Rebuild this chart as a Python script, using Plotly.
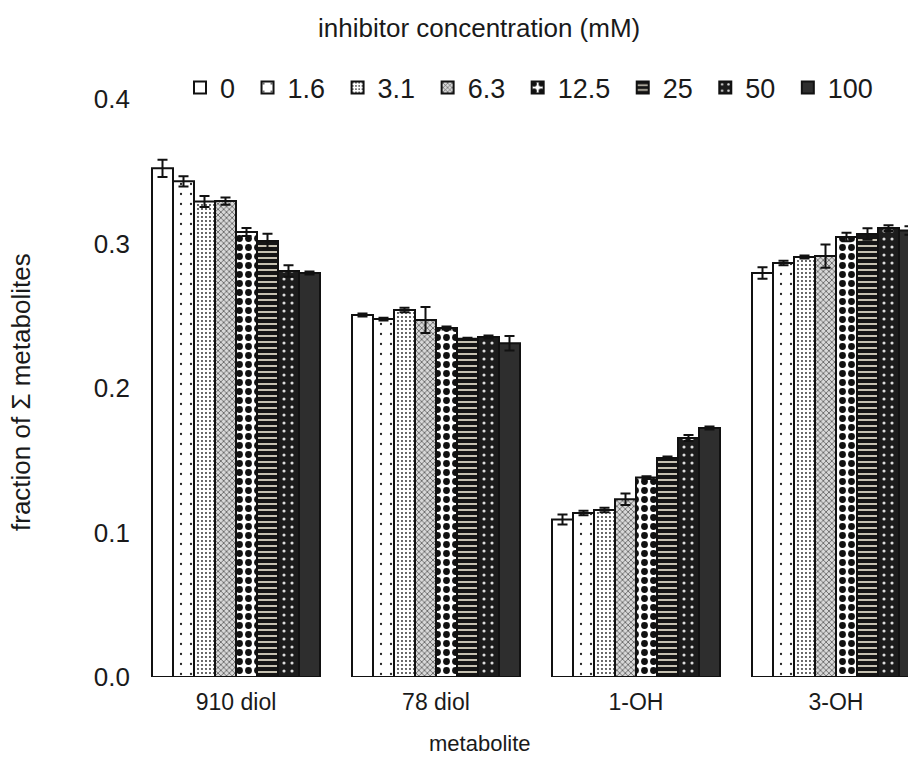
import plotly.graph_objects as go

# Metabolite categories on the x axis
metabolites = ["910 diol", "78 diol", "1-OH", "3-OH"]

# Inhibitor concentrations (one bar series each)
concentrations = ["0", "1.6", "3.1", "6.3", "12.5", "25", "50", "100"]

# Mean fraction of total metabolites, per concentration (order follows metabolites)
frac_0 = [0.352, 0.2505, 0.109, 0.2796]
frac_1_6 = [0.343, 0.2477, 0.1135, 0.2865]
frac_3_1 = [0.329, 0.254, 0.1156, 0.2907]
frac_6_3 = [0.3294, 0.247, 0.123, 0.2913]
frac_12_5 = [0.308, 0.2415, 0.138, 0.3045]
frac_25 = [0.3017, 0.234, 0.1516, 0.3066]
frac_50 = [0.281, 0.2353, 0.1654, 0.3107]
frac_100 = [0.2796, 0.231, 0.1723, 0.309]

# Error (+/-) per bar
err_0 = [0.006, 0.001, 0.0035, 0.004]
err_1_6 = [0.0035, 0.001, 0.0015, 0.0015]
err_3_1 = [0.0038, 0.0015, 0.0015, 0.001]
err_6_3 = [0.0025, 0.009, 0.004, 0.008]
err_12_5 = [0.0028, 0.001, 0.001, 0.003]
err_25 = [0.005, 0.0007, 0.001, 0.004]
err_50 = [0.004, 0.001, 0.002, 0.002]
err_100 = [0.001, 0.005, 0.001, 0.003]

values = [frac_0, frac_1_6, frac_3_1, frac_6_3, frac_12_5, frac_25, frac_50, frac_100]
errors = [err_0, err_1_6, err_3_1, err_6_3, err_12_5, err_25, err_50, err_100]

# Fill style of each series: (background, pattern shape, pattern colour, size, solidity)
styles = [
    ("white", "", "black", 8, 0.3),
    ("white", ".", "#222222", 10, 0.04),
    ("white", ".", "#222222", 4, 0.16),
    ("#d8d8d8", "x", "#555555", 4, 0.35),
    ("white", ".", "#111111", 9, 0.45),
    ("#151515", "-", "#e8e2cf", 6, 0.28),
    ("#1c1c1c", ".", "#dcdcdc", 8, 0.12),
    ("#2e2e2e", "", "#2e2e2e", 8, 0.3),
]

FONT = "Liberation Sans, Arial, sans-serif"
W, H = 908, 762
M_L, M_R, M_T, M_B = 136, 0, 99, 85
plot_w = W - M_L - M_R
plot_h = H - M_T - M_B
cat_px = 200.0
x_hi = -0.5 + plot_w / cat_px


def px_x(px):
    return (px - M_L) / plot_w


def px_y(py):
    return (H - M_B - py) / plot_h


fig = go.Figure()
for name, y, e, (bg, shape, fg, size, sol) in zip(concentrations, values, errors, styles):
    fig.add_trace(go.Bar(
        name=name + "\u00a0",
        x=metabolites,
        y=y,
        error_y=dict(type="data", array=e, visible=True, color="#111111",
                     thickness=2, width=5),
        marker=dict(
            color=bg,
            line=dict(color="#111111", width=2),
            pattern=dict(shape=shape, fgcolor=fg, bgcolor=bg, size=size,
                         solidity=sol, fillmode="replace"),
        ),
    ))

fig.update_layout(
    width=W, height=H,
    margin=dict(l=M_L, r=M_R, t=M_T, b=M_B),
    paper_bgcolor="white", plot_bgcolor="white",
    font=dict(family=FONT, size=22, color="#1a1a1a"),
    barmode="group", bargap=0.16, bargroupgap=0,
    showlegend=True,
    legend=dict(
        orientation="h", x=px_x(180), xanchor="left",
        y=px_y(88), yanchor="middle",
        font=dict(size=27), bgcolor="rgba(0,0,0,0)",
        itemwidth=30, traceorder="normal",
    ),
    xaxis=dict(
        range=[-0.5, x_hi], showline=False, showgrid=False, zeroline=False,
        ticks="", tickfont=dict(size=23), ticklabelstandoff=9,
    ),
    yaxis=dict(
        range=[0, 0.4], tickvals=[0, 0.1, 0.2, 0.3, 0.4],
        ticktext=["0.0", "0.1", "0.2", "0.3", "0.4"],
        showline=False, showgrid=False, zeroline=False, ticks="",
        tickfont=dict(size=26), ticklabelstandoff=5,
    ),
    annotations=[
        dict(text="inhibitor concentration (mM)", xref="paper", yref="paper",
             x=px_x(479), y=px_y(28), xanchor="center", yanchor="middle",
             showarrow=False, font=dict(size=26)),
        dict(text="metabolite", xref="paper", yref="paper",
             x=px_x(480), y=px_y(743), xanchor="center", yanchor="middle",
             showarrow=False, font=dict(size=22)),
        dict(text="fraction of Σ metabolites", xref="paper", yref="paper",
             x=px_x(21), y=px_y(392), xanchor="center", yanchor="middle",
             textangle=-90, showarrow=False, font=dict(size=26)),
    ],
)

fig.write_html("out.html")
